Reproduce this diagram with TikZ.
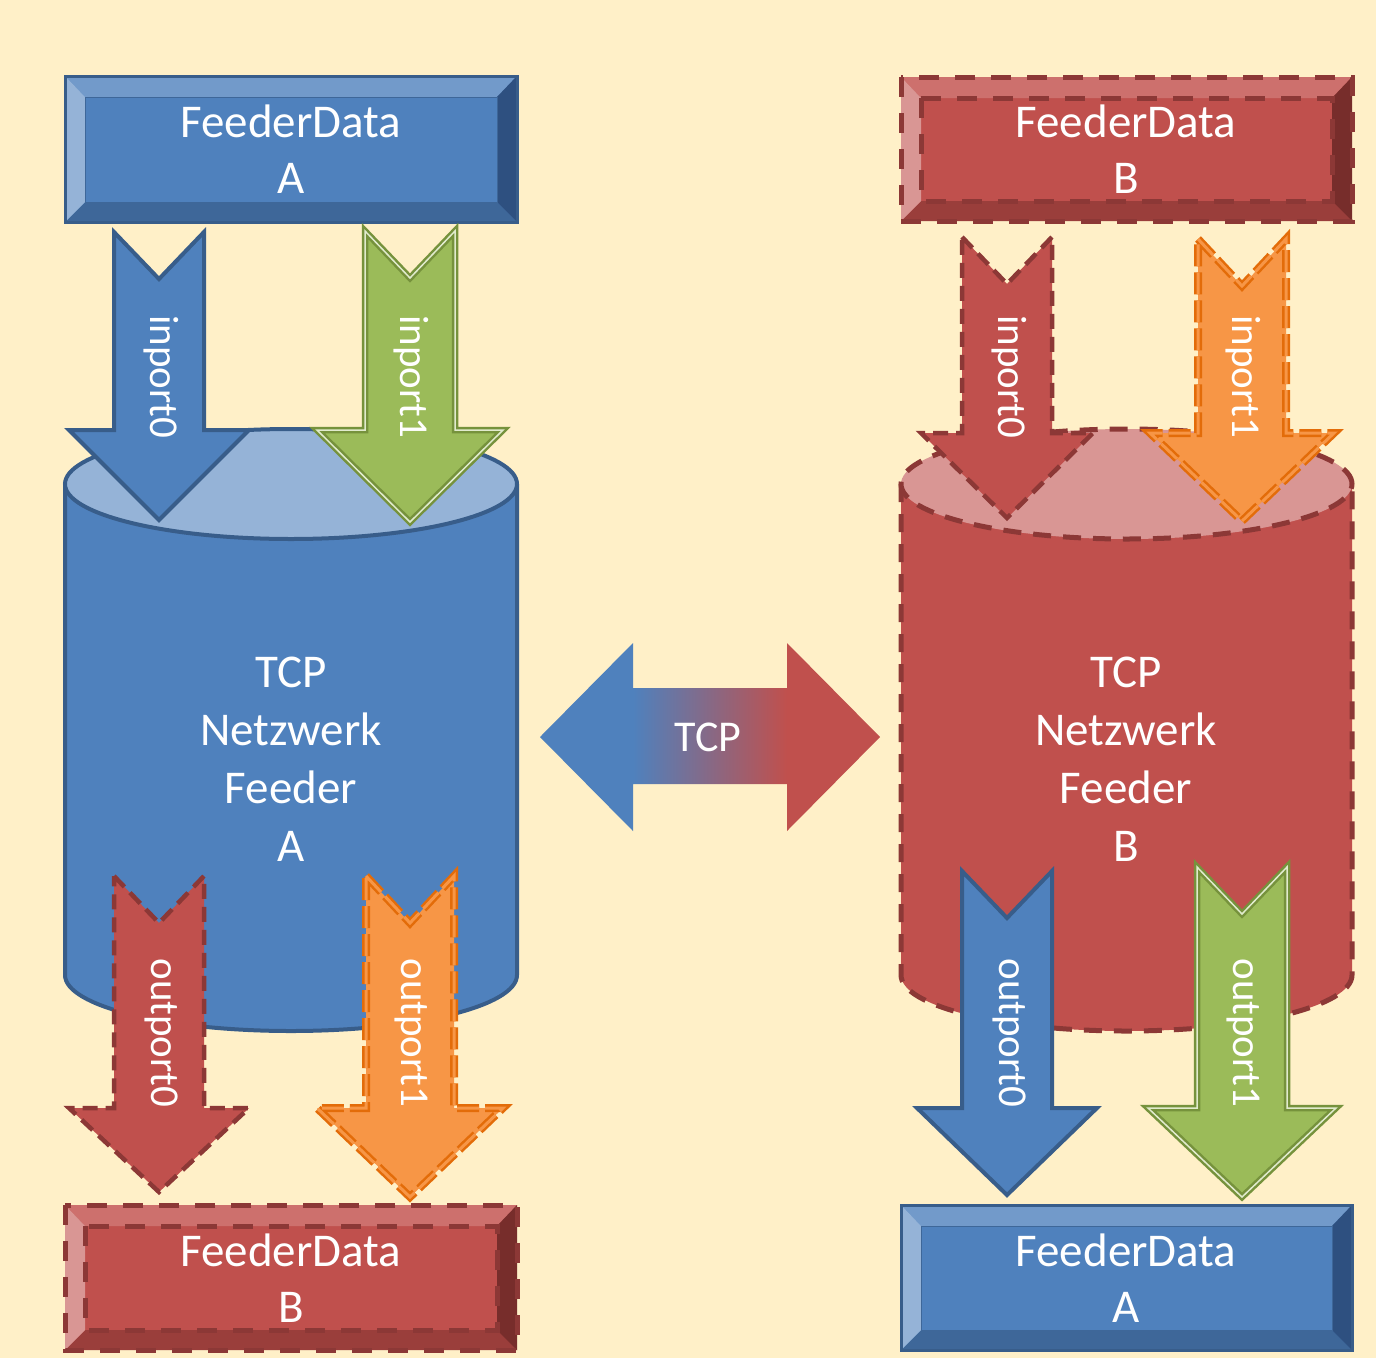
\documentclass[tikz,border=0pt]{standalone}
\usepackage{fontspec}
\setmainfont{Carlito}
\definecolor{bg}{HTML}{FFF0C8}
\definecolor{bluemain}{HTML}{4F81BD}
\definecolor{blueline}{HTML}{385D8A}
\definecolor{bluetop}{HTML}{729ACA}
\definecolor{blueleft}{HTML}{95B3D7}
\definecolor{blueright}{HTML}{2E5080}
\definecolor{bluebot}{HTML}{3E6799}
\definecolor{bluecap}{HTML}{95B3D7}
\definecolor{redmain}{HTML}{C0504D}
\definecolor{redline}{HTML}{8C3836}
\definecolor{redtop}{HTML}{CD706D}
\definecolor{redleft}{HTML}{D99694}
\definecolor{redright}{HTML}{772D2B}
\definecolor{redbot}{HTML}{9A3E3B}
\definecolor{redcap}{HTML}{D99694}
\definecolor{greenmain}{HTML}{9BBB59}
\definecolor{greenline}{HTML}{76923C}
\definecolor{orangemain}{HTML}{F79646}
\definecolor{orangeline}{HTML}{E36C09}
\pgfdeclarehorizontalshading{tcpshade}{100bp}{color(0bp)=(bluemain); color(38.7bp)=(bluemain); color(61.3bp)=(redmain); color(100bp)=(redmain)}

\newcommand{\bevbox}[6]{%
  \fill[#5main] (#1,#2) rectangle (#3,#4);
  \fill[#5top] (#1,#2) -- (#3,#2) -- ({#3-20},{#2+21}) -- ({#1+20},{#2+21}) -- cycle;
  \fill[#5bot] (#1,#4) -- (#3,#4) -- ({#3-20},{#4-20}) -- ({#1+20},{#4-20}) -- cycle;
  \fill[#5left] (#1,#2) -- ({#1+20},{#2+21}) -- ({#1+20},{#4-20}) -- (#1,#4) -- cycle;
  \fill[#5right] (#3,#2) -- ({#3-20},{#2+21}) -- ({#3-20},{#4-20}) -- (#3,#4) -- cycle;
  \draw[#6inner] ({#1+20},{#2+21}) rectangle ({#3-20},{#4-20});
  \draw[#6] (#1,#2) rectangle (#3,#4);
}
\newcommand{\cylshape}[4]{%
  \fill[#3main] (#1,484) -- (#1,975) arc[start angle=180,end angle=360,x radius=#2,y radius=56pt] -- ({#1+2*#2},484) -- cycle;
  \draw[#4] (#1,484) -- (#1,975) arc[start angle=180,end angle=360,x radius=#2,y radius=56pt] -- ({#1+2*#2},484);
  \filldraw[#4, fill=#3cap] ({#1+#2},484) ellipse [x radius=#2, y radius=55pt];
}
\newcommand{\dnarrow}[7]{%
  \path[#1] ({#2-#6},#3) -- (#2,{#3+47}) -- ({#2+#6},#3) -- ({#2+#6},#4) -- ({#2+#7},#4) -- (#2,#5) -- ({#2-#7},#4) -- ({#2-#6},#4) -- cycle;
}

\tikzset{
  bluebox/.style={draw=blueline, line width=3pt},
  blueboxinner/.style={draw=bluebot, line width=1pt},
  redbox/.style={draw=redline, line width=5pt, dash pattern=on 20pt off 16pt},
  redboxinner/.style={draw=redline, line width=5pt, dash pattern=on 20pt off 16pt},
  bluecyl/.style={draw=blueline, line width=4pt},
  redcyl/.style={draw=redline, line width=5pt, dash pattern=on 18pt off 12pt},
  bluearrow/.style={fill=bluemain, draw=blueline, line width=4pt, line join=miter},
  redarrow/.style={fill=redmain, draw=redline, line width=4.5pt, dash pattern=on 15pt off 8pt},
  greenarrow/.style={fill=greenmain, draw=greenline, line width=2.5pt, double=white!70!greenmain, double distance=1.5pt},
  orangearrow/.style={fill=orangemain, draw=orangeline, line width=2.5pt, double=orangemain, double distance=3pt, dash pattern=on 22pt off 6pt},
  boxtxt/.style={text=white, font=\fontsize{47}{56}\selectfont, align=center, inner sep=0pt},
  cyltxt/.style={text=white, font=\fontsize{47}{58}\selectfont, align=center, inner sep=0pt},
  lbl/.style={text=white, font=\fontsize{41}{49}\selectfont, inner sep=0pt, rotate=-90},
}

\begin{document}
\begin{tikzpicture}[x=1pt, y=-1pt]
\useasboundingbox (0,0) rectangle (1376,1358);
\fill[bg] (0,0) rectangle (1376,1358);

% boxes
\bevbox{65}{76}{517}{222}{blue}{bluebox}
\bevbox{901}{77}{1352}{221}{red}{redbox}
\bevbox{65}{1205}{517}{1350}{red}{redbox}
\bevbox{901}{1205}{1352}{1350}{blue}{bluebox}

% cylinders
\cylshape{65}{226pt}{blue}{bluecyl}
\cylshape{901}{225.5pt}{red}{redcyl}

% arrows left
\dnarrow{bluearrow}{159}{232}{430}{520}{45}{90}
\dnarrow{greenarrow}{410}{231}{430}{522}{45}{93}
\dnarrow{redarrow}{159}{876}{1108}{1192}{45}{90}
\dnarrow{orangearrow}{410}{876}{1108}{1197}{44}{93}
% arrows right
\dnarrow{redarrow}{1007}{237}{433}{518}{45}{86}
\dnarrow{orangearrow}{1242}{239}{433}{521}{44}{92}
\dnarrow{bluearrow}{1007}{871}{1108}{1195}{45}{90}
\dnarrow{greenarrow}{1242}{867}{1108}{1197}{45}{94}

% TCP double arrow
\path[shading=tcpshade] (540,737) -- (633,643) -- (633,688) -- (787,688) -- (787,643) -- (880,737) -- (787,831) -- (787,784) -- (633,784) -- (633,831) -- cycle;

% texts
\node[boxtxt] (fdAtop) at (291,149) {FeederData\\A};
\node[boxtxt] (fdBtop) at (1126,149) {FeederData\\B};
\node[boxtxt] (fdBbot) at (291,1278) {FeederData\\B};
\node[boxtxt] (fdAbot) at (1126,1278) {FeederData\\A};
\node[cyltxt] (feedA) at (291,759) {TCP\\Netzwerk\\Feeder\\A};
\node[cyltxt] (feedB) at (1126,759) {TCP\\Netzwerk\\Feeder\\B};
\node[text=white, font=\fontsize{44}{52}\selectfont, inner sep=0pt] (tcp) at (708,737) {TCP};

\node[lbl] (inA0) at (161,377) {inport0};
\node[lbl] (inA1) at (411,377) {inport1};
\node[lbl] (outA0) at (161,1033) {outport0};
\node[lbl] (outA1) at (411,1033) {outport1};
\node[lbl] (inB0) at (1009,377) {inport0};
\node[lbl] (inB1) at (1243,377) {inport1};
\node[lbl] (outB0) at (1009,1033) {outport0};
\node[lbl] (outB1) at (1243,1033) {outport1};
\end{tikzpicture}
\end{document}
